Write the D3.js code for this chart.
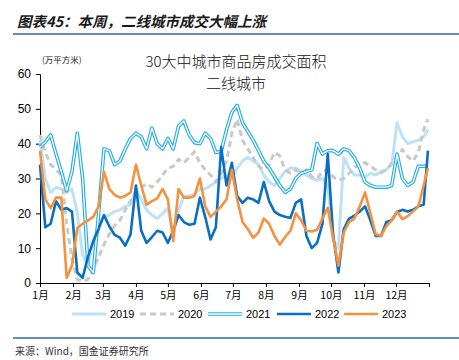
<!DOCTYPE html>
<meta charset="utf-8">
<style>
body { margin: 0; background: #fff; }
svg { display: block; font-family: "Liberation Sans", Arial, sans-serif; }
.axis path, .axis line { stroke: #000; stroke-width: 1px; }
.axis text { font-size: 11px; fill: #000; font-family: "Liberation Sans", Arial, sans-serif; }
.lines path { fill: none; stroke-linejoin: round; }
</style>
<svg width="459" height="360"></svg>
<script src="https://cdn.jsdelivr.net/npm/d3@7"></script>
<script>

// sample days (day of year), one point every 5 days
var days = d3.range(0, 361, 5).concat([364]);

var monthStarts = [0, 31, 59, 90, 120, 151, 181, 212, 243, 273, 304, 334];
var monthLabels = ["1月", "2月", "3月", "4月", "5月", "6月", "7月", "8月", "9月", "10月", "11月", "12月"];
var yTicks = [0, 10, 20, 30, 40, 50, 60];

var v2019 = [41,30,26,27.5,27,26,27,20,8,5,12,17,19,19.5,20.5,21,22,22.5,27,24,21,19.5,18.5,20,21.5,14,21,25,25,25.5,
  27,27,28,29,30,31,30,33,35,36,35,34,31,29,28,30,32,33,33,32,31,30,29.5,30,28,12,10,36,33,31,
  31,30.5,31.5,31,32,32.5,34,46,42,40,40.5,41,42,44];
var v2020 = [42.5,37.5,34,32.5,31,17,7,1,0.5,1,4,7.5,11,14,16.5,18,21,23.5,26,27.5,28.5,27.5,29,31,33,33.5,35.5,34.5,36,37.7,
  34.5,32.5,31,29,31.5,35,43,47,41,38.5,36,33.5,32.5,34,37.5,36.5,32.5,31.5,32.5,31.5,32.5,30.5,30,32,32.5,30.5,29.5,30,31.5,33,
  34.5,34.5,33.5,32.5,31.7,32.5,34.5,36,38.3,36.3,35,37.5,44,47];
var v2021 = [39,40.5,42.5,37,32,26.5,32,43,30,5,3,20,38.5,38,34,35,38.5,41.5,43,42,38.5,44.5,40,38.5,41.5,38.5,45,46.5,42.5,40.3,
  40,43,41.5,37.5,37.7,44,49,51,46,43.5,41,38,35,33,30.5,28,26,27,30,31.5,32,32.5,40,37,38,38,37,38.5,38,36,
  33,29,28,27.5,27.5,27.5,28,37,30,28,29,33.5,33.5,33.5];
var v2022 = [34,16,17,23.5,21,21.5,20.5,3,1.5,7.5,12,15.5,19.5,16.3,13.8,13,10.7,14,28,15,11.5,13.2,15,14.5,11.5,15,19.5,17.5,16.7,17,
  24.5,19,12.5,16,39,28,34.5,25,23,24.5,24,23,29,23.5,20.5,19.5,19,18.7,23,24,13.5,10,11.5,17,37,14,3,15.5,18.5,19.3,
  20.5,22,18,13.5,13.5,17.5,18,20.4,21,20.5,21,22,22.5,38];
var v2023 = [38,24,21.5,24.5,24.5,1.5,5,15.8,17,18,19,22,32,27,25.3,24.5,25,26,34,28,22.5,23.5,24.3,27,24,12,27,24.5,24.5,25,
  30,22,19,20.5,22,24,32.5,24,17.5,15.5,13,14.5,18.5,17,13.5,11,13.2,15,20,18,15,14.8,15.3,18.5,21.6,13,5,14.5,17.5,18.5,
  22,26,20,14,13.5,16.3,18,20.5,18.3,19.2,20.5,22,28,33];

var series = [
  {name: "2019", values: v2019, color: "#bde2f6", width: 3, dash: null, dbl: false},
  {name: "2020", values: v2020, color: "#c9c9c9", width: 3, dash: "6,4", dbl: false},
  {name: "2021", values: v2021, color: "#25aee8", width: 3.6, dash: null, dbl: true},
  {name: "2022", values: v2022, color: "#0a6fc2", width: 2.6, dash: null, dbl: false},
  {name: "2023", values: v2023, color: "#f4923f", width: 2.6, dash: null, dbl: false}
];

var svg = d3.select("svg");

var x = d3.scaleLinear().domain([0, 365]).range([40, 429]);
var y = d3.scaleLinear().domain([0, 60]).range([283, 74]);

// header
svg.append("text")
    .attr("x", 17).attr("y", 27)
    .style("font-family", "'Noto Sans CJK SC', sans-serif")
    .style("font-size", "14.5px")
    .style("font-weight", "bold")
    .style("font-style", "italic")
    .style("fill", "#1a1a1a")
    .text("图表45：本周，二线城市成交大幅上涨");

svg.append("line")
    .attr("x1", 13).attr("x2", 459).attr("y1", 34).attr("y2", 34)
    .style("stroke", "#2a6990").style("stroke-width", 1.5);

svg.append("text")
    .attr("x", 236).attr("y", 67)
    .attr("text-anchor", "middle")
    .style("font-family", "'Noto Sans CJK SC', sans-serif")
    .style("font-size", "15px")
    .style("font-weight", 300)
    .style("fill", "#111")
    .text("30大中城市商品房成交面积");

svg.append("text")
    .attr("x", 236).attr("y", 89)
    .attr("text-anchor", "middle")
    .style("font-family", "'Noto Sans CJK SC', sans-serif")
    .style("font-size", "15px")
    .style("font-weight", 300)
    .style("fill", "#111")
    .text("二线城市");

svg.append("text")
    .attr("x", 42).attr("y", 63)
    .style("font-family", "'Noto Sans CJK SC', sans-serif")
    .style("font-size", "8.5px")
    .style("fill", "#222")
    .text("(万平方米)");

// axes
svg.append("g")
    .attr("class", "axis")
    .attr("transform", "translate(40,0)")
    .call(d3.axisLeft(y).tickValues(yTicks).tickSize(4).tickPadding(5))
    .call(function(g) { g.selectAll("text").style("font-size", "12px"); });

var xAxis = svg.append("g")
    .attr("class", "axis")
    .attr("transform", "translate(0,283)")
    .call(d3.axisBottom(x).tickValues(monthStarts.concat([365])).tickSize(4).tickSizeOuter(0)
      .tickFormat(function(d, i) { return i < 12 ? monthLabels[i] : ""; }));
xAxis.selectAll("text")
    .style("font-family", "'Noto Sans CJK SC', sans-serif")
    .style("font-size", "10.5px")
    .attr("dy", "0.9em");

// lines
var line = d3.line()
    .x(function(d, i) { return x(days[i]); })
    .y(function(d) { return y(d); });

var g = svg.append("g").attr("class", "lines");

series.forEach(function(s) {
  g.append("path")
      .attr("d", line(s.values))
      .style("stroke", s.color)
      .style("stroke-width", s.width)
      .style("stroke-dasharray", s.dash);
  if (s.dbl) {
    g.append("path")
        .attr("d", line(s.values))
        .style("stroke", "#fff")
        .style("stroke-width", 1.3);
  }
});

// legend
var legendX = [72, 140, 208, 277, 344];
var legend = svg.append("g").attr("class", "legend");
series.forEach(function(s, i) {
  var lx = legendX[i];
  legend.append("line")
      .attr("x1", lx).attr("x2", lx + 34).attr("y1", 314).attr("y2", 314)
      .style("stroke", s.color)
      .style("stroke-width", s.width)
      .style("stroke-dasharray", s.dash);
  if (s.dbl) {
    legend.append("line")
        .attr("x1", lx).attr("x2", lx + 34).attr("y1", 314).attr("y2", 314)
        .style("stroke", "#fff").style("stroke-width", 1.3);
  }
  legend.append("text")
      .attr("x", lx + 38).attr("y", 318)
      .style("font-size", "11px")
      .style("fill", "#000")
      .text(s.name);
});

// footer
svg.append("line")
    .attr("x1", 13).attr("x2", 459).attr("y1", 338).attr("y2", 338)
    .style("stroke", "#5d8fae").style("stroke-width", 2);

svg.append("text")
    .attr("x", 15).attr("y", 355)
    .style("font-family", "'Noto Sans CJK SC', sans-serif")
    .style("font-size", "10px")
    .style("fill", "#333")
    .text("来源：Wind，国金证券研究所");

</script>
